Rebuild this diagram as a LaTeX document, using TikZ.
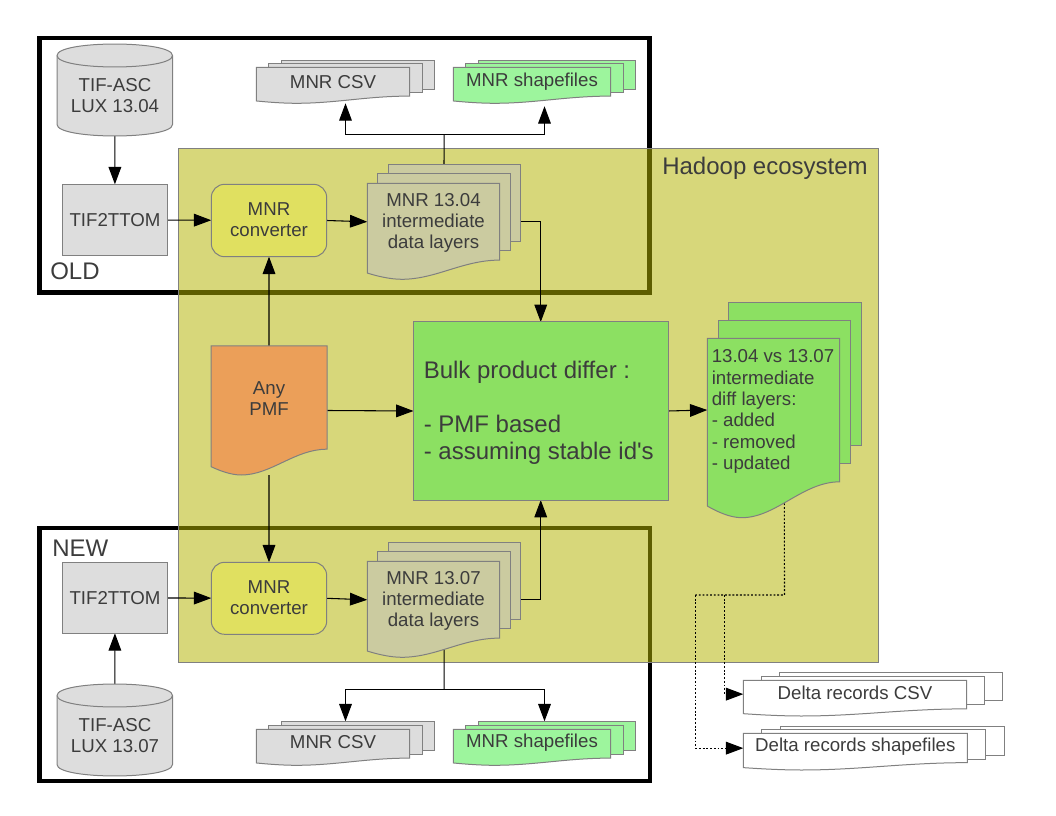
\documentclass[tikz,border=0pt]{standalone}
\usepackage{fontspec}
\setmainfont{Liberation Sans}
\newfontfamily\rawfont{Liberation Sans}
\usetikzlibrary{arrows.meta,fit,calc}
\definecolor{edgegrey}{HTML}{808080}
\definecolor{docgrey}{HTML}{DDDDDD}
\definecolor{docgreen}{HTML}{9DF59D}
\definecolor{diffgreen}{HTML}{8CE062}
\definecolor{convyellow}{HTML}{E0E060}
\definecolor{pmforange}{HTML}{EB9F59}
\definecolor{layerolive}{HTML}{CBCBA0}
\definecolor{hadoopfill}{RGB}{180,180,0}
\definecolor{inktext}{HTML}{3C3C3C}
\pgfdeclarelayer{back}
\pgfdeclarelayer{wires}
\pgfsetlayers{back,wires,main}
\tikzset{
  shapeline/.style={draw=edgegrey,line width=0.75pt},
  ghost/.style={inner sep=0pt,outer sep=0pt},
  lab/.style={text=inktext,align=center,inner sep=0pt,font=\fontsize{14}{16}\selectfont},
  biglab/.style={text=inktext,inner sep=0pt,font=\fontsize{18}{20.25}\selectfont},
  boxnode/.style={ghost,shapeline},
  stacktext/.style={},
  region/.style={ghost,draw=black,line width=3.2pt},
  wire/.style={draw=black,line width=0.8pt},
  arr/.style={wire,-{Triangle[length=13pt,width=9.5pt]}},
  dotwire/.style={draw=black,line width=0.8pt,dash pattern=on 1.4pt off 1.4pt},
  dotarr/.style={dotwire,-{Triangle[length=13pt,width=9.5pt]}},
}
% name, fill, x0, top, width, height
\newcommand{\docwave}[6]{%
  \pgfmathsetmacro{\xR}{#3+#5}\pgfmathsetmacro{\yR}{#4+0.8*#6}
  \pgfmathsetmacro{\yL}{#4+0.935*#6}\pgfmathsetmacro{\yM}{#4+#6}
  \pgfmathsetmacro{\xA}{#3+0.72*#5}\pgfmathsetmacro{\xB}{#3+0.52*#5}
  \pgfmathsetmacro{\xC}{#3+0.26*#5}\pgfmathsetmacro{\xD}{#3+0.17*#5}
  \pgfmathsetmacro{\xE}{#3+0.07*#5}\pgfmathsetmacro{\yE}{#4+0.965*#6}
  \path[shapeline,fill=#2] (#3,#4) -- (\xR,#4) -- (\xR,\yR)
    .. controls (\xA,\yR) and (\xB,\yM) .. (\xC,\yM)
    .. controls (\xD,\yM) and (\xE,\yE) .. (#3,\yL) -- cycle;
  \node[ghost,fit={(#3,#4) (\xR,\yR)}] (#1-front) {};
}
% name, fill, x0, top, width, height, dx, dy, label
\newcommand{\stackdoc}[9]{%
  \pgfmathsetmacro{\bxA}{#3+2*#7}\pgfmathsetmacro{\byA}{#4+2*#8}
  \pgfmathsetmacro{\bxB}{#3+2*#7+#5}\pgfmathsetmacro{\byB}{#4+2*#8+0.8*#6}
  \pgfmathsetmacro{\mxA}{#3+#7}\pgfmathsetmacro{\myA}{#4+#8}
  \pgfmathsetmacro{\mxB}{#3+#7+#5}\pgfmathsetmacro{\myB}{#4+#8+0.8*#6}
  \pgfmathsetmacro{\bot}{#4+#6}
  \path[shapeline,fill=#2] (\bxA,\byA) rectangle (\bxB,\byB);
  \path[shapeline,fill=#2] (\mxA,\myA) rectangle (\mxB,\myB);
  \node[ghost,fit={(#3,\byA) (\bxB,\bot)}] (#1) {};
  \docwave{#1}{#2}{#3}{#4}{#5}{#6}
  \node[lab,stacktext] (#1-text) at (#1-front.center) {#9};
}
% name, top
\newcommand{\tifcyl}[2]{%
  \pgfmathsetmacro{\ya}{#2+11.5}\pgfmathsetmacro{\yb}{#2+80.5}\pgfmathsetmacro{\yc}{#2+92}
  \path[shapeline,fill=docgrey] (57,\ya) -- (57,\yb)
     .. controls (57,{\yb+15.3}) and (172.5,{\yb+15.3}) .. (172.5,\yb) -- (172.5,\ya)
     .. controls (172.5,{\ya-15.3}) and (57,{\ya-15.3}) .. (57,\ya) -- cycle;
  \path[shapeline] (57,\ya) .. controls (57,{\ya+15.3}) and (172.5,{\ya+15.3}) .. (172.5,\ya);
  \node[ghost,fit={(57,#2) (172.5,\yc)}] (#1) {};
}
\begin{document}
\begin{tikzpicture}[x=0.75pt,y=-0.75pt]
\useasboundingbox (0,0) rectangle (1056,816);

% regions
\begin{pgfonlayer}{back}
  \fill[white] (0,0) rectangle (1056,816);
  \node[region,fit={(39.5,38) (649.5,292.5)}] (oldbox) {};
  \node[region,fit={(39.5,528) (650,781)}] (newbox) {};
  \node[ghost,draw=edgegrey,line width=0.75pt,fill=hadoopfill,fill opacity=0.52,fit={(178,149) (878.5,662)}] (hadoop) {};
\end{pgfonlayer}
\node[biglab,anchor=east] (hadooptext) at (868,168.5) {Hadoop ecosystem};
\node[biglab,anchor=west] (oldtext) at (50,271) {OLD};
\node[biglab,anchor=west] (newtext) at (52,548) {NEW};

% upper chain
\tifcyl{cylold}{44}
\node[lab] (cyloldtext) at (115,95.5) {TIF-ASC\\LUX 13.04};
\node[boxnode,fill=docgrey,fit={(62.3,184.3) (167.7,255.3)}] (tifold) {};
\node[lab] (tifoldtext) at (115,219.8) {TIF2TTOM};
\node[boxnode,fill=convyellow,rounded corners=10pt,fit={(211.3,184.3) (326.7,256.7)}] (convold) {};
\node[lab] (convoldtext) at (269,220) {MNR\\converter};
\begin{scope}[stacktext/.style={yshift=-0.9pt}]
\stackdoc{layold}{layerolive}{367.3}{183.3}{132.4}{96}{10.5}{-9.5}{MNR 13.04\\intermediate\\data layers}
\end{scope}
\stackdoc{csvold}{docgrey}{256.3}{67.3}{153.4}{36}{12.5}{-3.5}{MNR CSV}
\stackdoc{shpold}{docgreen}{453.3}{67.3}{157.4}{36}{12.5}{-3.5}{MNR shapefiles}

% lower chain
\tifcyl{cylnew}{684}
\node[lab] (cylnewtext) at (115,735.5) {TIF-ASC\\LUX 13.07};
\node[boxnode,fill=docgrey,fit={(62.3,562.3) (167.7,633.3)}] (tifnew) {};
\node[lab] (tifnewtext) at (115,597.8) {TIF2TTOM};
\node[boxnode,fill=convyellow,rounded corners=10pt,fit={(211.3,562.3) (326.7,634.3)}] (convnew) {};
\node[lab] (convnewtext) at (269,598) {MNR\\converter};
\begin{scope}[stacktext/.style={yshift=-0.9pt}]
\stackdoc{laynew}{layerolive}{367.3}{561.3}{132.4}{96}{10.5}{-9.5}{MNR 13.07\\intermediate\\data layers}
\end{scope}
\begin{scope}[stacktext/.style={yshift=1pt}]
\stackdoc{csvnew}{docgrey}{256.3}{729.3}{153.4}{36}{12.5}{-4}{MNR CSV}
\stackdoc{shpnew}{docgreen}{453.3}{729.3}{157.4}{36}{12.5}{-4}{MNR shapefiles}
\end{scope}

% centre
\docwave{pmf}{pmforange}{211}{346}{116}{129}
\node[ghost,fit={(211,346) (327,475)}] (pmfgroup) {};
\node[lab,yshift=-0.6pt] (pmftext) at (pmf-front.center) {Any\\PMF};
\node[ghost,shapeline,fill=diffgreen,fit={(413.5,322) (668,500)}] (bulk) {};
\node[biglab,anchor=west,align=left] (bulktext) at (423.5,412.5) {Bulk product differ :\\~\\- PMF based\\- assuming stable id{\rawfont '}s};

% diff layers
\stackdoc{diff}{diffgreen}{707.3}{338.3}{132.4}{179.4}{10.7}{-18}{}
\node[lab,anchor=west,align=left] (difftext) at (711.5,411.5) {13.04 vs 13.07\\intermediate\\diff layers:\\- added\\- removed\\- updated};

% delta outputs
\begin{scope}[stacktext/.style={yshift=1pt}]
\stackdoc{dcsv}{white}{743.3}{680.3}{223.4}{35.7}{18}{-4}{Delta records CSV}
\stackdoc{dshp}{white}{743.3}{733.3}{224}{36.7}{18.5}{-3.5}{Delta records shapefiles}
\end{scope}

% connectors
\coordinate (oldfork) at (444.2,134.3);
\coordinate (newfork) at (444.2,689.3);
\coordinate (dotfork) at (784.5,595);
\coordinate (dotcsv) at (724.7,595);
\coordinate (dotshp) at (695.3,595);
\begin{pgfonlayer}{wires}
  \draw[arr] (cylold) -- (tifold);
  \draw[arr] (tifold) -- (convold);
  \draw[arr] (convold.east) -- (layold.west);
  \draw[wire] (layold.north) -- (oldfork);
  \draw[arr] (oldfork) -| (csvold.south);
  \draw[arr,shorten >=2.2pt] (oldfork) -| (shpold.south);
  \draw[arr] (layold.east) -| (bulk.north);

  \draw[arr] (cylnew) -- (tifnew);
  \draw[arr] (tifnew) -- (convnew);
  \draw[arr] (convnew.east) -- (laynew.west);
  \draw[wire] (laynew.center) -- (newfork);
  \draw[arr] (newfork) -| (csvnew.north);
  \draw[arr] (newfork) -| (shpnew.north);
  \draw[arr] (laynew.east) -| (bulk.south);

  \draw[arr] (pmfgroup.north) -- (convold.south);
  \draw[arr] (pmfgroup.south) -- (convnew.north);
  \draw[arr] (pmfgroup.east) -- (bulk.west);
  \draw[arr] (bulk.east) -- (diff.west);

  \draw[dotwire] (diff.center) -- (dotfork) -- (dotshp);
  \draw[dotarr] (dotcsv) |- (dcsv.west);
  \draw[dotarr] (dotshp) |- (dshp.west);
\end{pgfonlayer}
\end{tikzpicture}
\end{document}
